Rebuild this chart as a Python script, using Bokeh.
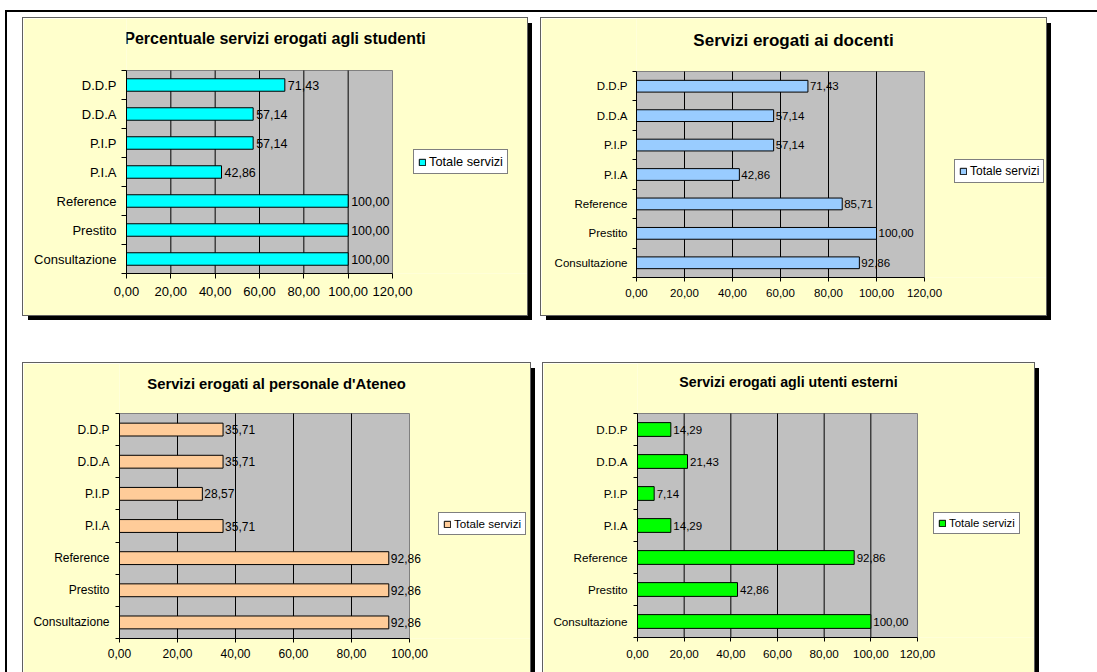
import numpy as np
from bokeh.plotting import figure
from bokeh.models import (Range1d, FixedTicker, Legend, LegendItem, Spacer, Label,
                          ColumnDataSource, CustomJSTickFormatter)
from bokeh.layouts import row, column
from bokeh.embed import file_html
from bokeh.resources import INLINE
from bokeh.core.properties import value

# ---------------- data ----------------
categories = ["Consultazione", "Prestito", "Reference", "P.I.A", "P.I.P", "D.D.A", "D.D.P"]
studenti = [100.00, 100.00, 100.00, 42.86, 57.14, 57.14, 71.43]
docenti = [92.86, 100.00, 85.71, 42.86, 57.14, 57.14, 71.43]
personale = [92.86, 92.86, 92.86, 35.71, 28.57, 35.71, 35.71]
esterni = [100.00, 42.86, 92.86, 14.29, 7.14, 21.43, 14.29]
ticks_120 = [0, 20, 40, 60, 80, 100, 120]
ticks_100 = [0, 20, 40, 60, 80, 100]
series_name = "Totale servizi"
title_studenti = "Percentuale servizi erogati agli studenti"
title_docenti = "Servizi erogati ai docenti"
title_personale = "Servizi erogati al personale d'Ateneo"
title_esterni = "Servizi erogati agli utenti esterni"

FONT = "Liberation Sans"
PANEL_BG = "#FFFFCC"
PLOT_BG = "#C0C0C0"


def fmt(v):
    return f"{v:.2f}".replace(".", ",")


def make_panel(title, vals, ticks, color, w, h, fl, fb, plot_w, plot_h,
               t_size, t_pos, lab_size, val_size, leg_size, leg_loc,
               bar_h, tick_out, x_stand, y_stand, val_off):
    n = len(categories)
    pos = np.arange(1, n + 1)
    fw = w - fl
    fh = h - fb
    x0, x1 = ticks[0], ticks[-1]
    x_end = x0 + (x1 - x0) * fw / plot_w
    y_end = 0.5 + n * fh / plot_h
    p = figure(frame_width=fw, frame_height=fh, title=None,
               x_range=Range1d(x0, x_end), y_range=Range1d(0.5, y_end),
               toolbar_location=None, output_backend="svg",
               min_border_left=fl, min_border_top=0,
               min_border_right=0, min_border_bottom=fb,
               border_fill_color=PANEL_BG, background_fill_color=PANEL_BG,
               outline_line_color=None)

    # plot area (gray) spanning the axis range
    p.quad(left=[x0], right=[x1], bottom=[0.5], top=[n + 0.5],
           fill_color=PLOT_BG, line_color="#808080", line_width=1, level="image")
    # vertical gridlines at inner ticks
    gt = ticks[1:-1]
    p.segment(x0=gt, y0=[0.5] * len(gt), x1=gt, y1=[n + 0.5] * len(gt),
              line_color="black", line_width=1, level="underlay")

    src = ColumnDataSource(dict(y=pos, v=vals, lab=[fmt(v) for v in vals]))
    r = p.hbar(y="y", left=0, right="v", height=bar_h, source=src,
               fill_color=color, line_color="black", line_width=1)
    p.text(x="v", y="y", text="lab", source=src, x_offset=val_off,
           text_align="left", text_baseline="middle",
           text_font=value(FONT), text_font_size=f"{val_size}px", text_color="black")

    xa = p.xaxis[0]
    xa.bounds = (x0, x1)
    xa.ticker = FixedTicker(ticks=ticks)
    xa.formatter = CustomJSTickFormatter(code="return tick.toFixed(2).replace('.', ',');")
    xa.axis_line_color = "black"
    xa.major_tick_line_color = "black"
    xa.major_tick_out = tick_out
    xa.major_tick_in = 0
    xa.minor_tick_line_color = None
    xa.minor_tick_out = 0
    xa.minor_tick_in = 0
    xa.major_label_standoff = x_stand
    xa.major_label_text_font = FONT
    xa.major_label_text_font_size = f"{lab_size}px"
    xa.major_label_text_color = "black"

    ya = p.yaxis[0]
    ya.bounds = (0.5, n + 0.5)
    ya.ticker = FixedTicker(ticks=list(pos), minor_ticks=list(np.arange(0.5, n + 1, 1.0)))
    ya.formatter = CustomJSTickFormatter(args=dict(names=categories),
                                         code="return names[Math.round(tick) - 1];")
    ya.axis_line_color = "black"
    ya.major_tick_line_color = None
    ya.major_tick_out = 0
    ya.major_tick_in = 0
    ya.minor_tick_line_color = "black"
    ya.minor_tick_out = tick_out
    ya.minor_tick_in = 0
    ya.major_label_standoff = y_stand
    ya.major_label_text_font = FONT
    ya.major_label_text_font_size = f"{lab_size}px"
    ya.major_label_text_color = "black"

    p.xgrid.visible = False
    p.ygrid.visible = False

    p.add_layout(Label(x=t_pos[0], y=t_pos[1], x_units="screen", y_units="screen",
                       text=title, text_align="center", text_baseline="middle",
                       text_font=FONT, text_font_size=f"{t_size}px",
                       text_font_style="bold", text_color="black"))

    legend = Legend(items=[LegendItem(label=series_name, renderers=[r])],
                    location=leg_loc, orientation="vertical",
                    border_line_color="black", border_line_width=1,
                    background_fill_color="white", background_fill_alpha=1,
                    padding=4, margin=0, spacing=0, label_standoff=3,
                    glyph_width=8, glyph_height=8, label_height=8,
                    label_text_font=FONT, label_text_font_size=f"{leg_size}px",
                    label_text_color="black")
    p.add_layout(legend)
    p.styles = {"box-shadow": "5px 5px 0px 0px #000000",
                "outline": "1px solid #606060"}
    return p


p1 = make_panel(title_studenti, studenti, ticks_120, "#00FFFF",
                504, 297, 103, 42, 266, 203, 16, (148.5, 235), 13, 12.5, 12.8, (287, 99),
                0.43, 5, 8, 5, 3)
p2 = make_panel(title_docenti, docenti, ticks_120, "#99CCFF",
                505, 297, 95, 38, 288, 206, 17, (157, 237.5), 11.5, 11.5, 12, (318, 94),
                0.40, 4, 7, 5, 2)
p3 = make_panel(title_personale, personale, ticks_100, "#FFCC99",
                507, 309, 96, 34, 290, 225, 14.8, (157, 254.7), 12, 12, 11.6, (319, 103),
                0.40, 4, 6, 6, 2)
p4 = make_panel(title_esterni, esterni, ticks_120, "#00FF00",
                491, 309, 94, 35, 280, 224, 14.2, (151, 255.3), 11.7, 11.5, 11.4, (296, 103),
                0.43, 4, 8, 6, 2.5)

content = column(
    Spacer(width=1040, height=6),
    row(Spacer(width=16, height=297), p1, Spacer(width=14, height=297), p2),
    Spacer(width=1040, height=48),
    row(Spacer(width=16, height=309), p3, Spacer(width=13, height=309), p4),
)

root = column(
    Spacer(width=1097, height=10),
    row(Spacer(width=5, height=2), Spacer(width=1092, height=2, styles={"background-color": "black"})),
    row(Spacer(width=5, height=660), Spacer(width=2, height=660, styles={"background-color": "black"}), content),
)

open("out.html", "w").write(file_html(root, INLINE))
